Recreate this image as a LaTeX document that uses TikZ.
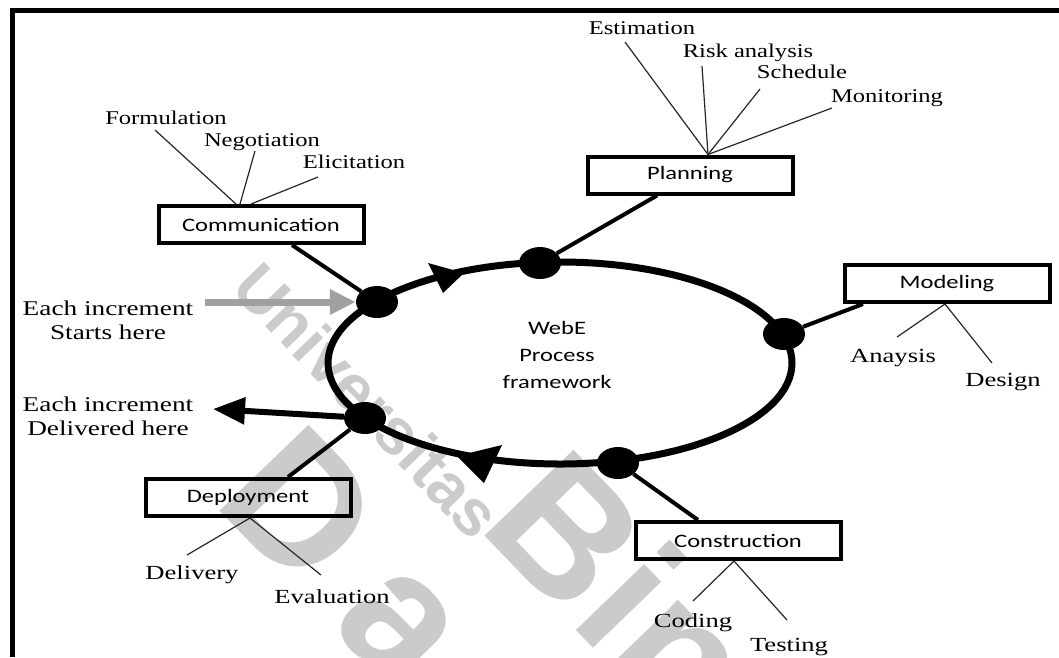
\documentclass[tikz,border=0pt]{standalone}
\usepackage{fontspec}
\newfontfamily\serA[FakeStretch=1.26]{Liberation Serif}
\newfontfamily\serB[FakeStretch=1.33]{Liberation Serif}
\newfontfamily\serC[FakeStretch=1.3]{Liberation Serif}
\newfontfamily\sanst[FakeStretch=1.29]{Carlito}
\newfontfamily\wmf{Liberation Sans}
\newfontfamily\wmfsp[LetterSpace=22]{Liberation Sans}
\usetikzlibrary{arrows.meta,shapes.geometric}
\definecolor{wmgray}{RGB}{203,203,203}
\definecolor{arrgray}{RGB}{160,160,160}
\begin{document}
\begin{tikzpicture}[x=1pt,y=-1pt,
  box/.style={draw, line width=4pt, minimum width=205pt, minimum height=37pt, inner sep=0pt, font=\sanst\fontsize{19}{23}\selectfont},
  dot/.style={ellipse, fill=black, minimum width=42pt, minimum height=32pt, inner sep=0pt},
  lblA/.style={font=\serA\fontsize{19.5}{24}\selectfont, inner sep=0pt, anchor=base},
  lblB/.style={font=\serB\fontsize{20}{24}\selectfont, inner sep=0pt, anchor=base},
  lblC/.style={font=\serC\fontsize{21}{24}\selectfont, inner sep=0pt, align=center},
  thinline/.style={line width=1.2pt, draw=black!85},
  link/.style={line width=4pt},
  wm/.style={text=wmgray, inner sep=0pt, rotate=-46},
]
\useasboundingbox (0,0) rectangle (1059,657);
\clip (0,0) rectangle (1059,657);

% watermark
\node[wm, font=\wmf\bfseries\fontsize{65}{70}\selectfont] (wm1) at (368,400) {Universitas};
\node[wm, anchor=west, font=\wmf\bfseries\fontsize{180}{190}\selectfont] (wm2) at (523,483) {Bina};
\node[wm, anchor=west, font=\wmfsp\bfseries\fontsize{180}{190}\selectfont] (wm3) at (255,460) {Darma};

% frame
\draw[line width=5pt] (12.5,657) -- (12.5,10.8) -- (1059,10.8);

% cycle
\draw[line width=7pt] (560,363) ellipse [x radius=232, y radius=101];
\fill (428,263) -- (464,273) -- (443,293) -- cycle;
\fill (502,445) -- (457,456) -- (484,483) -- cycle;

\node[dot] (d1) at (377,302) {};
\node[dot] (d2) at (540,263) {};
\node[dot] (d3) at (784,334) {};
\node[dot] (d4) at (618,463) {};
\node[dot] (d5) at (365,418) {};

\node[font=\sanst\fontsize{19}{27}\selectfont, align=center] (ctr) at (557,355) {WebE\\Process\\framework};

% boxes
\node[box] (comm) at (261,224.5) {Communication};
\node[box] (plan) at (690,175) {Planning};
\node[box] (model) at (947,283.5) {Modeling};
\node[box] (constr) at (738,540.5) {Construction};
\node[box] (deploy) at (248,497.5) {Deployment};

\draw[link] (d1) -- ([xshift=31pt]comm.south);
\draw[link] (d2) -- ([xshift=-33pt]plan.south);
\draw[link] (d3) -- ([xshift=-84pt]model.south);
\draw[link] (d4) -- ([xshift=-40pt]constr.north);
\draw[link] (d5) -- ([xshift=40pt]deploy.north);

% labels
\node[lblA] (form) at (166,124) {Formulation};
\node[lblA] (nego) at (262,146) {Negotiation};
\node[lblA] (elic) at (354,168) {Elicitation};
\coordinate (formE) at (155,130);
\coordinate (negoE) at (255,151);
\coordinate (elicE) at (318,177);
\draw[thinline] (formE) -- ([xshift=-25pt]comm.north);
\draw[thinline] (negoE) -- ([xshift=-21pt]comm.north);
\draw[thinline] (elicE) -- ([xshift=-10pt]comm.north);

\node[lblA] (estim) at (642,34) {Estimation};
\node[lblA] (risk) at (748,57) {Risk analysis};
\node[lblA] (sched) at (802,78) {Schedule};
\node[lblA] (monit) at (887,102) {Monitoring};
\coordinate (estimE) at (625,42);
\coordinate (riskE) at (702,66);
\coordinate (schedE) at (760,89);
\coordinate (monitE) at (832,108);
\draw[thinline] (estimE) -- ([xshift=18pt]plan.north);
\draw[thinline] (riskE) -- ([xshift=18pt]plan.north);
\draw[thinline] (schedE) -- ([xshift=18pt]plan.north);
\draw[thinline] (monitE) -- ([xshift=18pt]plan.north);

\node[lblB] (anay) at (893,362) {Anaysis};
\node[lblB] (design) at (1003,386) {Design};
\coordinate (anayE) at (897,337);
\coordinate (designE) at (992,363);
\draw[thinline] (anayE) -- ([xshift=-2pt]model.south);
\draw[thinline] (designE) -- ([xshift=-2pt]model.south);

\node[lblB] (coding) at (693,627) {Coding};
\node[lblB] (testing) at (789,651) {Testing};
\coordinate (codingE) at (693,601);
\coordinate (testingE) at (787,620);
\draw[thinline] (codingE) -- ([xshift=-4pt]constr.south);
\draw[thinline] (testingE) -- ([xshift=-4pt]constr.south);

\node[lblB] (delivery) at (192,579) {Delivery};
\node[lblB] (evaluation) at (332,603) {Evaluation};
\coordinate (deliveryE) at (187,555);
\coordinate (evaluationE) at (321,575);
\draw[thinline] (deliveryE) -- ([xshift=2pt]deploy.south);
\draw[thinline] (evaluationE) -- ([xshift=2pt]deploy.south);

% increment arrows
\node[lblC] (starts) at (108,320) {Each increment\\Starts here};
\node[lblC] (deliv) at (108,416.5) {Each increment\\Delivered here};
\coordinate (gs) at (205,302);
\coordinate (de) at (213,409);
\draw[line width=7pt, arrgray, -{Triangle[length=26pt,width=24pt]}] (gs) -- (d1);
\draw[line width=6pt, -{Triangle[length=32pt,width=26pt]}] (d5) -- (de);
\end{tikzpicture}
\end{document}
